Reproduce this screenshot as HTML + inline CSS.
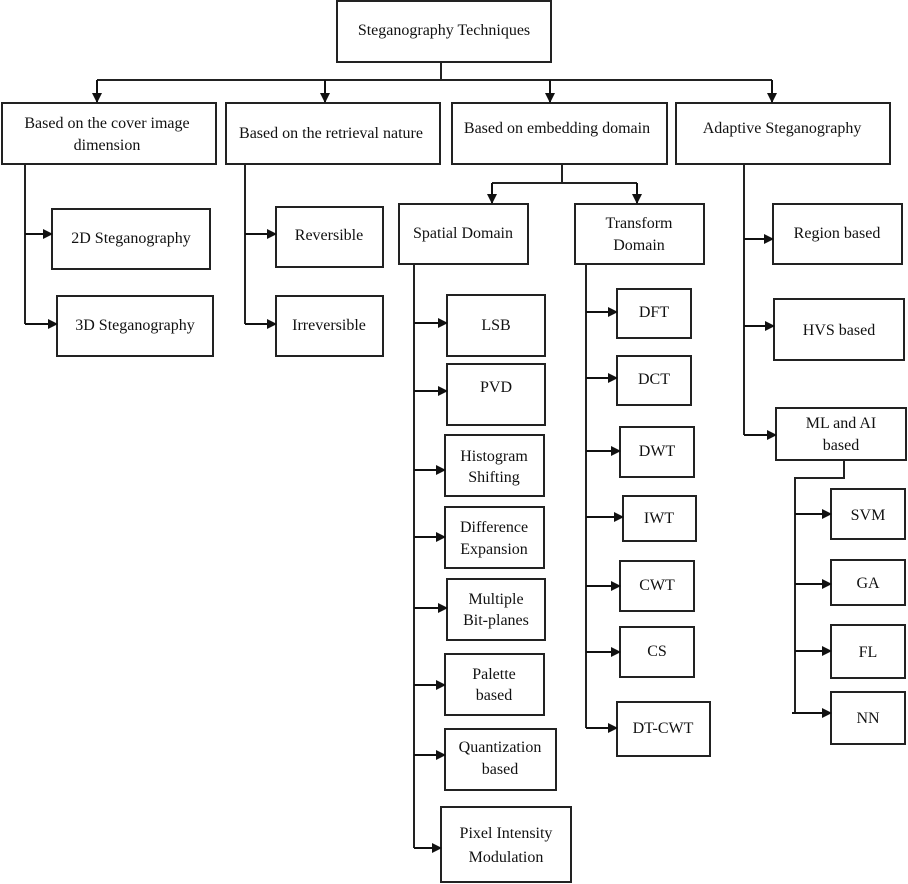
<!DOCTYPE html>
<html><head><meta charset="utf-8"><style>
html,body{margin:0;padding:0;background:#fff;}
svg{display:block;}
text{font-family:"Liberation Serif",serif;font-size:16px;fill:#111;text-anchor:middle;}
</style></head><body>
<svg width="908" height="884" viewBox="0 0 908 884" xmlns="http://www.w3.org/2000/svg">
<defs><marker id="a" markerWidth="10" markerHeight="10" refX="9" refY="5" orient="auto" markerUnits="userSpaceOnUse"><path d="M0,0 L10,5 L0,10 z" fill="#111"/></marker></defs>
<g fill="none" stroke="#222" stroke-width="2">
<rect x="337" y="1" width="214" height="61"/>
<rect x="2" y="103" width="214" height="61"/>
<rect x="226" y="103" width="214" height="61"/>
<rect x="452" y="103" width="215" height="61"/>
<rect x="676" y="103" width="214" height="61"/>
<rect x="52" y="209" width="158" height="60"/>
<rect x="57" y="296" width="156" height="60"/>
<rect x="276" y="207" width="107" height="60"/>
<rect x="276" y="296" width="107" height="60"/>
<rect x="399" y="204" width="129" height="60"/>
<rect x="575" y="204" width="129" height="60"/>
<rect x="773" y="204" width="129" height="60"/>
<rect x="774" y="299" width="130" height="61"/>
<rect x="776" y="408" width="130" height="52"/>
<rect x="447" y="295" width="98" height="61"/>
<rect x="447" y="364" width="98" height="61"/>
<rect x="445" y="435" width="99" height="61"/>
<rect x="445" y="507" width="99" height="61"/>
<rect x="447" y="579" width="98" height="61"/>
<rect x="445" y="654" width="99" height="61"/>
<rect x="445" y="729" width="111" height="61"/>
<rect x="441" y="807" width="130" height="75"/>
<rect x="617" y="289" width="74" height="49"/>
<rect x="617" y="356" width="74" height="49"/>
<rect x="620" y="427" width="74" height="50"/>
<rect x="623" y="496" width="73" height="45"/>
<rect x="620" y="561" width="74" height="50"/>
<rect x="620" y="627" width="74" height="50"/>
<rect x="617" y="702" width="93" height="54"/>
<rect x="831" y="489" width="74" height="50"/>
<rect x="831" y="560" width="74" height="45"/>
<rect x="831" y="625" width="74" height="53"/>
<rect x="831" y="692" width="74" height="52"/>
<path d="M441 62V80M97 80H772"/>
<path d="M562 164V183M492 183H637"/>
<path d="M25 164V324M245 164V324M414 264V848M586 264V728M744 164V435M844 460V478H795V713"/>
</g>
<g stroke="#111" stroke-width="2" marker-end="url(#a)">
<line x1="97" y1="80" x2="97" y2="102"/>
<line x1="325" y1="80" x2="325" y2="102"/>
<line x1="550" y1="80" x2="550" y2="102"/>
<line x1="772" y1="80" x2="772" y2="102"/>
<line x1="492" y1="183" x2="492" y2="203"/>
<line x1="637" y1="183" x2="637" y2="203"/>
<line x1="25" y1="234" x2="52" y2="234"/>
<line x1="25" y1="324" x2="57" y2="324"/>
<line x1="245" y1="234" x2="276" y2="234"/>
<line x1="245" y1="324" x2="276" y2="324"/>
<line x1="414" y1="323" x2="447" y2="323"/>
<line x1="414" y1="391" x2="447" y2="391"/>
<line x1="414" y1="470" x2="445" y2="470"/>
<line x1="414" y1="537" x2="445" y2="537"/>
<line x1="414" y1="608" x2="447" y2="608"/>
<line x1="414" y1="685" x2="445" y2="685"/>
<line x1="414" y1="755" x2="445" y2="755"/>
<line x1="414" y1="848" x2="441" y2="848"/>
<line x1="586" y1="312" x2="617" y2="312"/>
<line x1="586" y1="378" x2="617" y2="378"/>
<line x1="586" y1="451" x2="620" y2="451"/>
<line x1="586" y1="517" x2="623" y2="517"/>
<line x1="586" y1="586" x2="620" y2="586"/>
<line x1="586" y1="652" x2="620" y2="652"/>
<line x1="586" y1="728" x2="617" y2="728"/>
<line x1="744" y1="239" x2="773" y2="239"/>
<line x1="744" y1="326" x2="774" y2="326"/>
<line x1="744" y1="435" x2="776" y2="435"/>
<line x1="795" y1="514" x2="831" y2="514"/>
<line x1="795" y1="584" x2="831" y2="584"/>
<line x1="795" y1="651" x2="831" y2="651"/>
<line x1="792" y1="713" x2="831" y2="713"/>
</g>
<text x="444" y="35">Steganography Techniques</text>
<text x="107" y="128">Based on the cover image</text>
<text x="107" y="150">dimension</text>
<text x="331" y="138">Based on the retrieval  nature</text>
<text x="557" y="133">Based on embedding  domain</text>
<text x="782" y="133">Adaptive Steganography</text>
<text x="131" y="243">2D Steganography</text>
<text x="135" y="330">3D Steganography</text>
<text x="329" y="240">Reversible</text>
<text x="329" y="330">Irreversible</text>
<text x="463" y="238">Spatial Domain</text>
<text x="639" y="228">Transform</text>
<text x="639" y="250">Domain</text>
<text x="837" y="238">Region based</text>
<text x="839" y="335">HVS based</text>
<text x="841" y="428">ML and AI</text>
<text x="841" y="450">based</text>
<text x="496" y="330">LSB</text>
<text x="496" y="392">PVD</text>
<text x="494" y="461">Histogram</text>
<text x="494" y="482">Shifting</text>
<text x="494" y="532">Difference</text>
<text x="494" y="554">Expansion</text>
<text x="496" y="604">Multiple</text>
<text x="496" y="625">Bit-planes</text>
<text x="494" y="679">Palette</text>
<text x="494" y="700">based</text>
<text x="500" y="752">Quantization</text>
<text x="500" y="774">based</text>
<text x="506" y="838">Pixel Intensity</text>
<text x="506" y="862">Modulation</text>
<text x="654" y="317">DFT</text>
<text x="654" y="384">DCT</text>
<text x="657" y="456">DWT</text>
<text x="659" y="523">IWT</text>
<text x="657" y="590">CWT</text>
<text x="657" y="656">CS</text>
<text x="663" y="733">DT-CWT</text>
<text x="868" y="520">SVM</text>
<text x="868" y="588">GA</text>
<text x="868" y="657">FL</text>
<text x="868" y="723">NN</text>
</svg>
</body></html>
